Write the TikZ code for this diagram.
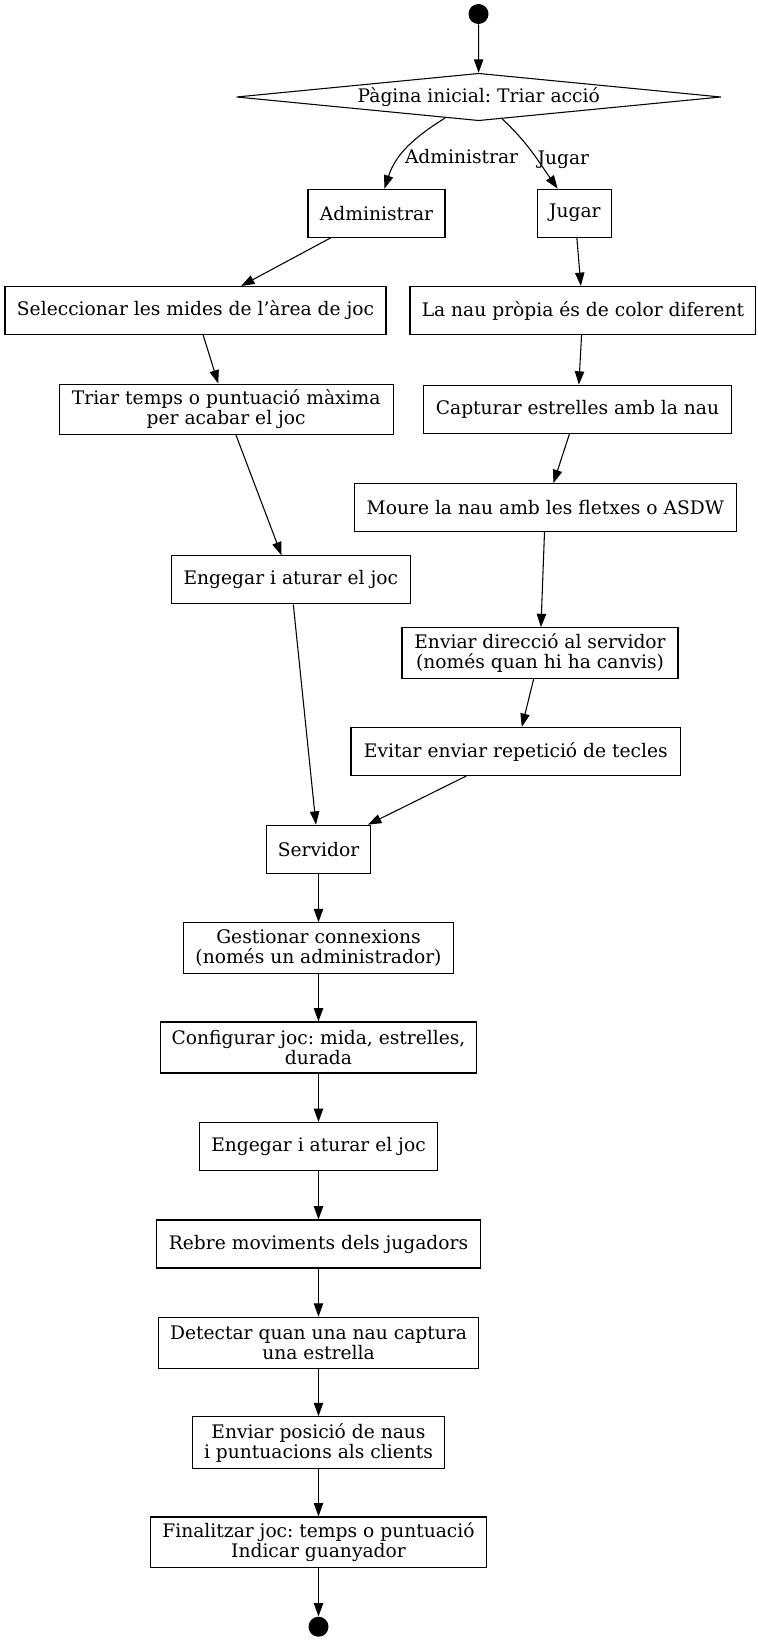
\documentclass[tikz,border=0pt]{standalone}
\usepackage{fontspec}
\setmainfont{DejaVu Serif}
\usepackage{tikz}
\usetikzlibrary{arrows.meta}
\usetikzlibrary{shapes.geometric}

\tikzset{
  box/.style={rectangle, draw=black, line width=0.8pt, fill=white, minimum height=36pt, inner sep=2pt, align=center, font=\fontsize{14}{15}\selectfont},
  choice/.style={diamond, draw=black, line width=0.8pt, aspect=10, inner sep=1pt, minimum width=363.5pt, minimum height=35.6pt, font=\fontsize{14}{15}\selectfont},
  blob/.style={circle, fill=black, draw=none, minimum size=15pt, inner sep=0pt},
  flow/.style={-{Triangle[length=10pt,width=7pt]}, line width=0.8pt},
  lbl/.style={font=\fontsize{14}{15}\selectfont, inner sep=2pt, anchor=west}
}

\begin{document}
\frenchspacing
\begin{tikzpicture}[x=0.75pt, y=0.75pt]

\useasboundingbox (0,0) rectangle (757,-1641);

\node at (478.5,-14) [blob] (start) {};
\node at (478.7,-97) [choice] (tria) {Pàgina inicial: Triar acció};

\node at (376.5,-213.2) [box, minimum width=102.75pt] (admin) {Administrar};
\node at (574.8,-213.2) [box, minimum width=55.5pt] (jugar) {Jugar};

\node at (195.5,-310.5) [box, minimum width=285.75pt] (mides) {Seleccionar les mides de l’àrea de joc};
\node at (226.2,-409.2) [box, minimum width=250.5pt, minimum height=37.7pt] (limit) {Triar temps o puntuació màxima\\per acabar el joc};
\node at (290.8,-579.9) [box, minimum width=179.1pt] (engega) {Engegar i aturar el joc};

\node at (582.9,-310.5) [box, minimum width=259.35pt] (color) {La nau pròpia és de color diferent};
\node at (577.5,-409.2) [box, minimum width=231.2pt] (captura) {Capturar estrelles amb la nau};
\node at (545.4,-507.7) [box, minimum width=286.5pt] (moure) {Moure la nau amb les fletxes o ASDW};
\node at (540,-653.2) [box, minimum width=207pt, minimum height=38.25pt] (direccio) {Enviar direcció al servidor\\(només quan hi ha canvis)};
\node at (515.8,-751.5) [box, minimum width=247.2pt] (repeticio) {Evitar enviar repetició de tecles};

\node at (318.5,-849.2) [box, minimum width=78.2pt] (servidor) {Servidor};
\node at (318.5,-947.9) [box, minimum width=202.5pt, minimum height=37.7pt] (connex) {Gestionar connexions\\(només un administrador)};
\node at (318.5,-1047.5) [box, minimum width=237.3pt, minimum height=38.25pt] (config) {Configurar joc: mida, estrelles,\\durada};
\node at (318.5,-1146.5) [box, minimum width=178.2pt] (engega2) {Engegar i aturar el joc};
\node at (318.5,-1244) [box, minimum width=243pt] (moviments) {Rebre moviments dels jugadors};
\node at (318.5,-1342.8) [box, minimum width=239.5pt, minimum height=38.25pt] (detecta) {Detectar quan una nau captura\\una estrella};
\node at (318.5,-1442.5) [box, minimum width=189.3pt, minimum height=38.7pt] (posicio) {Enviar posició de naus\\i puntuacions als clients};
\node at (318.5,-1542.3) [box, minimum width=252pt, minimum height=38pt] (final) {Finalitzar joc: temps o puntuació\\Indicar guanyador};
\node at (318.5,-1626.7) [blob] (stop) {};

\draw[flow] (start) -- (tria);
\draw[flow] (tria) to[out=-148, in=72] node[lbl, pos=0.6, yshift=-2pt] {Administrar} (admin);
\draw[flow] (tria) to[out=-43, in=125] node[lbl, pos=0.55, yshift=-3pt] {Jugar} (jugar);

\draw[flow] (admin) -- (mides);
\draw[flow] (mides) -- (limit);
\draw[flow] (limit) -- (engega);
\draw[flow] (engega) -- (servidor);

\draw[flow] (jugar) -- (color);
\draw[flow] (color) -- (captura);
\draw[flow] (captura) -- (moure);
\draw[flow] (moure) -- (direccio);
\draw[flow] (direccio) -- (repeticio);
\draw[flow] (repeticio) -- (servidor);

\draw[flow] (servidor) -- (connex);
\draw[flow] (connex) -- (config);
\draw[flow] (config) -- (engega2);
\draw[flow] (engega2) -- (moviments);
\draw[flow] (moviments) -- (detecta);
\draw[flow] (detecta) -- (posicio);
\draw[flow] (posicio) -- (final);
\draw[flow] (final) -- (stop);

\end{tikzpicture}
\end{document}
